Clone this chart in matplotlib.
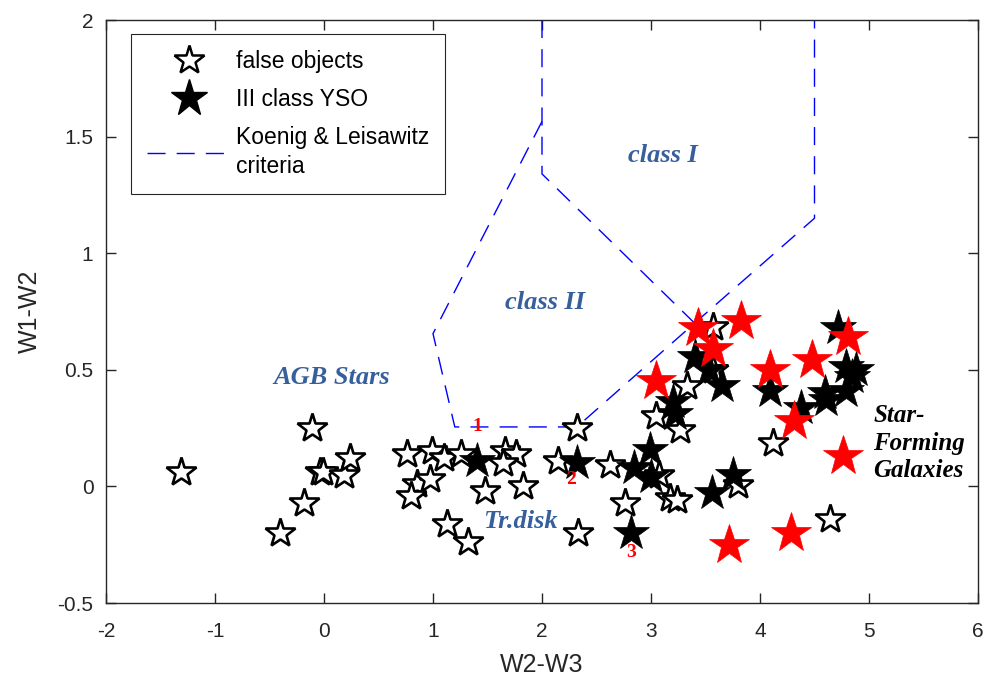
import matplotlib
matplotlib.use("Agg")
import matplotlib.pyplot as plt
from matplotlib.lines import Line2D

# false objects (hollow stars)
false_x = [-1.31, -0.40, -0.18, -0.11, -0.04, -0.01, 0.18, 0.24,
           0.76, 0.99, 1.10, 1.26, 1.66, 1.76, 1.64, 0.85, 0.97, 0.80,
           1.48, 1.83, 1.13, 1.32, 2.32, 2.15, 2.33, 2.62,
           2.76, 3.07, 3.17, 3.24, 3.27, 3.05, 3.33, 3.57, 3.57, 3.80,
           4.12, 4.64]
false_y = [0.06, -0.20, -0.07, 0.25, 0.06, 0.06, 0.05, 0.12,
           0.14, 0.15, 0.12, 0.14, 0.15, 0.14, 0.10, 0.01, 0.03, -0.04,
           -0.02, 0.00, -0.16, -0.24, 0.25, 0.11, -0.20, 0.09,
           -0.07, 0.05, -0.05, -0.06, 0.24, 0.30, 0.43, 0.685, 0.50, 0.005,
           0.185, -0.14]

# III class YSO (filled black stars)
yso_x = [1.40, 2.32, 2.82, 2.84, 2.99, 3.00, 3.20, 3.22, 3.40, 3.53,
         3.65, 3.56, 3.75, 4.09, 4.38, 4.61, 4.60, 4.79, 4.79, 4.88,
         4.84, 4.72]
yso_y = [0.11, 0.10, -0.20, 0.08, 0.155, 0.04, 0.36, 0.31, 0.555, 0.50,
         0.43, -0.03, 0.05, 0.41, 0.335, 0.37, 0.40, 0.41, 0.51, 0.50,
         0.47, 0.68]

# highlighted objects (red stars)
red_x = [3.43, 3.83, 3.57, 3.05, 4.09, 4.48, 4.81, 4.31, 4.76, 3.72, 4.28]
red_y = [0.68, 0.71, 0.59, 0.45, 0.50, 0.54, 0.64, 0.28, 0.13, -0.25, -0.20]

# Koenig & Leisawitz criteria boundaries
kl1_x = [2.0, 2.0, 3.40]
kl1_y = [2.0, 1.34, 0.70]
kl2_x = [2.0, 1.0, 1.2, 2.32, 3.40, 4.5, 4.5]
kl2_y = [1.565, 0.655, 0.255, 0.255, 0.70, 1.15, 2.0]

# region labels
region_text = ["class I", "class II", "AGB Stars", "Tr.disk"]
region_x = [3.11, 2.03, 0.07, 1.80]
region_y = [1.42, 0.79, 0.465, -0.15]

num_text = ["1", "2", "3"]
num_x = [1.41, 2.27, 2.82]
num_y = [0.255, 0.03, -0.285]

plt.rcParams['font.family'] = ['Liberation Sans', 'DejaVu Sans']

fig = plt.figure(figsize=(9.85, 6.78), dpi=100)
ax = fig.add_axes([0.1076, 0.1106, 0.8853, 0.8599])

dash = (13, 8)
ax.plot(kl1_x, kl1_y, color='#0000ff', lw=1.0, dashes=dash, zorder=2)
ax.plot(kl2_x, kl2_y, color='#0000ff', lw=1.0, dashes=dash, zorder=2)

ax.plot(false_x, false_y, ls='none', marker='*', ms=22, mfc='white',
        mec='black', mew=1.9, zorder=3)
ax.plot(yso_x, yso_y, ls='none', marker='*', ms=27, mfc='black',
        mec='black', mew=0.5, zorder=4)
ax.plot(red_x, red_y, ls='none', marker='*', ms=30, mfc='red',
        mec='red', mew=0.5, zorder=5)

lab_col = '#365f9c'
for t, x, y in zip(region_text, region_x, region_y):
    ax.text(x, y, t, ha='center', va='center', color=lab_col, fontsize=19,
            fontweight='bold', fontstyle='italic', family='Liberation Serif',
            zorder=6)

for t, x, y in zip(num_text, num_x, num_y):
    ax.text(x, y, t, ha='center', va='center', color='red', fontsize=14,
            fontweight='bold', family='Liberation Serif', zorder=6)

ax.text(5.04, 0.186, "Star-\nForming\nGalaxies", ha='left', va='center',
        color='black', fontsize=18, fontweight='bold', fontstyle='italic',
        family='Liberation Serif', linespacing=1.25, zorder=6)

ax.set_xlim(-2, 6)
ax.set_ylim(-0.5, 2)
ax.set_xticks(range(-2, 7))
ax.set_yticks([-0.5, 0, 0.5, 1, 1.5, 2])
ax.set_yticklabels(['-0.5', '0', '0.5', '1', '1.5', '2'])
ax.set_xticklabels([str(v) for v in range(-2, 7)])
ax.tick_params(direction='in', length=7, width=1, top=True, right=True,
               labelsize=15, colors='#262626')
ax.tick_params(axis='x', pad=14)
ax.tick_params(axis='y', pad=9)
for s in ax.spines.values():
    s.set_linewidth(1.0)
    s.set_color('#262626')
ax.set_xlabel("W2-W3", fontsize=18, color='#262626', labelpad=8)
ax.set_ylabel("W1-W2", fontsize=18, color='#262626', labelpad=11)

handles = [
    Line2D([], [], ls='none', marker='*', ms=22, mfc='white', mec='black', mew=1.8),
    Line2D([], [], ls='none', marker='*', ms=28, mfc='black', mec='black'),
    Line2D([], [], color='#0000ff', lw=1.0, dashes=dash),
]
labels = ["false objects", "III class YSO", "Koenig & Leisawitz\ncriteria"]
leg = ax.legend(handles, labels, loc='upper left', bbox_to_anchor=(0.029, 0.976),
                borderaxespad=0, fontsize=16.5, handlelength=3.6, handletextpad=0.25,
                labelspacing=0.65, borderpad=0.7, fancybox=False, framealpha=1,
                edgecolor='#262626')
leg.get_frame().set_linewidth(0.8)
leg.get_texts()[2].set_linespacing(1.35)

fig.savefig("out.png", dpi=100)
